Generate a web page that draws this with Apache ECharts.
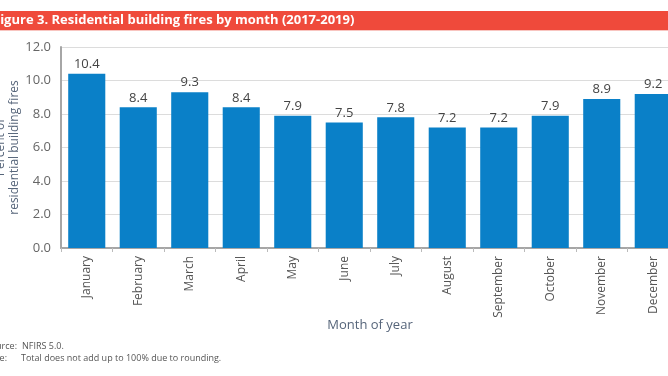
<!DOCTYPE html>
<html>
<head>
<meta charset="utf-8">
<script src="https://cdn.jsdelivr.net/npm/echarts@6/dist/echarts.min.js"></script>
<style>
  html, body { margin: 0; padding: 0; background: #fff; }
  #chart { width: 668px; height: 376px; }
</style>
</head>
<body>
<div id="chart"></div>
<script>
// months and share of residential building fires (%)
var months = ['January', 'February', 'March', 'April', 'May', 'June', 'July',
  'August', 'September', 'October', 'November', 'December'];
var percents = [10.4, 8.4, 9.3, 8.4, 7.9, 7.5, 7.8, 7.2, 7.2, 7.9, 8.9, 9.2];
var yTicks = [0, 2, 4, 6, 8, 10, 12];

var font = '"Open Sans", "Noto Sans", sans-serif';
var chart = echarts.init(document.getElementById('chart'));

var option = {
  backgroundColor: '#fff',
  animation: false,
  textStyle: { fontFamily: font },
  grid: { left: 61, right: -11, top: 47, bottom: 128, outerBoundsMode: 'none', containLabel: false },
  graphic: [
    // red title banner
    { type: 'rect', shape: { x: 0, y: 11, width: 668, height: 19 }, style: { fill: '#ef4a3b' } },
    { type: 'rect', shape: { x: 0, y: 30, width: 668, height: 1 }, style: { fill: '#f8c5c0' } },
    {
      type: 'text', x: -7, y: 20,
      style: {
        text: 'Figure 3. Residential building fires by month (2017-2019)',
        fill: '#fff', font: 'bold 13px ' + font, textVerticalAlign: 'middle'
      }
    },
    // footnotes
    { type: 'text', x: 17, y: 346, style: { text: 'Source:', fill: '#555', font: '9px ' + font, textAlign: 'right', textVerticalAlign: 'middle' } },
    { type: 'text', x: 22, y: 346, style: { text: 'NFIRS 5.0.', fill: '#555', font: '9px ' + font, textVerticalAlign: 'middle' } },
    { type: 'text', x: 7, y: 358, style: { text: 'Note:', fill: '#555', font: '9px ' + font, textAlign: 'right', textVerticalAlign: 'middle' } },
    { type: 'text', x: 21, y: 358, style: { text: 'Total does not add up to 100% due to rounding.', fill: '#555', font: '9px ' + font, textVerticalAlign: 'middle' } }
  ],
  xAxis: {
    type: 'category',
    data: months,
    name: 'Month of year',
    nameLocation: 'middle',
    nameGap: 71,
    nameMoveOverlap: false,
    nameTextStyle: { color: '#56657a', fontSize: 13 },
    axisLine: { lineStyle: { color: '#a6a6a6', width: 2 } },
    axisTick: { show: true, lineStyle: { color: '#bbb' }, length: 4 },
    axisLabel: { rotate: 90, color: '#555', fontSize: 12, margin: 8, interval: 0 }
  },
  yAxis: {
    type: 'value',
    min: yTicks[0],
    max: yTicks[yTicks.length - 1],
    interval: 2,
    name: 'Percent of\nresidential building fires',
    nameLocation: 'middle',
    nameGap: 39,
    nameMoveOverlap: false,
    nameTextStyle: { color: '#56657a', fontSize: 12, lineHeight: 14 },
    axisLine: { show: true, lineStyle: { color: '#a6a6a6', width: 2 } },
    axisTick: { show: false },
    splitLine: { lineStyle: { color: '#dcdcdc' } },
    axisLabel: {
      color: '#666', fontSize: 13, margin: 10,
      formatter: function (v) { return v.toFixed(1); }
    }
  },
  series: [{
    type: 'bar',
    data: percents,
    barCategoryGap: '28%',
    itemStyle: { color: '#0a80c8' },
    label: {
      show: true, position: 'top', distance: 3,
      color: '#444', fontSize: 13,
      formatter: function (p) { return p.value.toFixed(1); }
    }
  }]
};

chart.setOption(option);
</script>
</body>
</html>
